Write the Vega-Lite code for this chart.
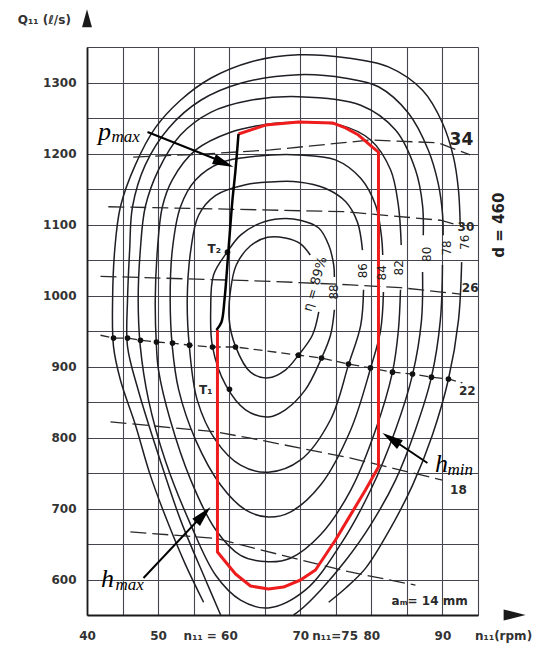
{
  "$schema": "https://vega.github.io/schema/vega-lite/v6.json",
  "width": 391,
  "height": 568,
  "autosize": "none",
  "padding": {"left": 87, "top": 47, "right": 59, "bottom": 36},
  "background": "white",
  "config": {"view": {"stroke": null}},
  "datasets": {
    "ct": [
      {"s":"89","x":72.6,"y":977},{"s":"89","x":71.7,"y":944},{"s":"89","x":69.75,"y":916},{"s":"89","x":67.9,"y":895},{"s":"89","x":65.5,"y":884},{"s":"89","x":63.0,"y":892},{"s":"89","x":60.9,"y":928},{"s":"89","x":60.0,"y":966},{"s":"89","x":60.2,"y":1008},{"s":"89","x":61.0,"y":1043},{"s":"89","x":63.0,"y":1070},{"s":"89","x":65.4,"y":1082},{"s":"89","x":67.9,"y":1081},{"s":"89","x":70.0,"y":1073},{"s":"89","x":71.4,"y":1057},
      {"s":"88","x":74.8,"y":980},{"s":"88","x":74.25,"y":944},{"s":"88","x":73.0,"y":912},{"s":"88","x":70.7,"y":867},{"s":"88","x":67.9,"y":839},{"s":"88","x":65.5,"y":829},{"s":"88","x":62.3,"y":839},{"s":"88","x":59.5,"y":874},{"s":"88","x":57.65,"y":928},{"s":"88","x":57.4,"y":980},{"s":"88","x":57.8,"y":1029},{"s":"88","x":59.7,"y":1061},{"s":"88","x":61.6,"y":1085},{"s":"88","x":64.4,"y":1102},{"s":"88","x":67.2,"y":1108},{"s":"88","x":70.0,"y":1106},{"s":"88","x":72.6,"y":1095},{"s":"88","x":74.0,"y":1071},{"s":"88","x":74.7,"y":1043},{"s":"88","x":74.8,"y":1026},
      {"s":"86","x":78.9,"y":1008},{"s":"86","x":78.5,"y":958},{"s":"86","x":76.8,"y":903},{"s":"86","x":74.25,"y":825},{"s":"86","x":70.0,"y":768},{"s":"86","x":65.5,"y":751},{"s":"86","x":61.6,"y":761},{"s":"86","x":58.1,"y":796},{"s":"86","x":55.5,"y":853},{"s":"86","x":54.4,"y":928},{"s":"86","x":54.1,"y":994},{"s":"86","x":54.6,"y":1064},{"s":"86","x":55.7,"y":1113},{"s":"86","x":58.1,"y":1141},{"s":"86","x":62.3,"y":1156},{"s":"86","x":65.8,"y":1160},{"s":"86","x":69.75,"y":1160},{"s":"86","x":73.5,"y":1151},{"s":"86","x":76.4,"y":1132},{"s":"86","x":78.05,"y":1103},{"s":"86","x":78.75,"y":1064},
      {"s":"84","x":81.7,"y":1005},{"s":"84","x":81.3,"y":951},{"s":"84","x":79.9,"y":898},{"s":"84","x":77.1,"y":811},{"s":"84","x":72.85,"y":733},{"s":"84","x":68.6,"y":695},{"s":"84","x":65.5,"y":688},{"s":"84","x":62.3,"y":698},{"s":"84","x":58.8,"y":733},{"s":"84","x":55.3,"y":796},{"s":"84","x":52.9,"y":867},{"s":"84","x":52.0,"y":928},{"s":"84","x":51.7,"y":994},{"s":"84","x":52.0,"y":1064},{"s":"84","x":53.15,"y":1125},{"s":"84","x":55.3,"y":1163},{"s":"84","x":58.8,"y":1187},{"s":"84","x":63.7,"y":1196},{"s":"84","x":69.75,"y":1198},{"s":"84","x":74.95,"y":1191},{"s":"84","x":78.5,"y":1165},{"s":"84","x":80.6,"y":1127},{"s":"84","x":81.4,"y":1085},{"s":"84","x":81.6,"y":1057},
      {"s":"82","x":84.1,"y":1008},{"s":"82","x":83.8,"y":951},{"s":"82","x":82.97,"y":892},{"s":"82","x":80.6,"y":811},{"s":"82","x":77.1,"y":726},{"s":"82","x":72.85,"y":663},{"s":"82","x":68.6,"y":630},{"s":"82","x":65.5,"y":625},{"s":"82","x":61.6,"y":634},{"s":"82","x":58.1,"y":670},{"s":"82","x":54.6,"y":740},{"s":"82","x":51.7,"y":825},{"s":"82","x":50.06,"y":895},{"s":"82","x":49.77,"y":928},{"s":"82","x":49.6,"y":994},{"s":"82","x":49.9,"y":1064},{"s":"82","x":50.6,"y":1125},{"s":"82","x":52.0,"y":1163},{"s":"82","x":55.3,"y":1205},{"s":"82","x":60.2,"y":1230},{"s":"82","x":65.1,"y":1241},{"s":"82","x":69.75,"y":1244},{"s":"82","x":75.65,"y":1240},{"s":"82","x":79.9,"y":1219},{"s":"82","x":82.7,"y":1177},{"s":"82","x":83.8,"y":1127},{"s":"82","x":84.2,"y":1071},
      {"s":"80","x":87.2,"y":1033},{"s":"80","x":87.05,"y":965},{"s":"80","x":85.8,"y":889},{"s":"80","x":83.4,"y":811},{"s":"80","x":79.9,"y":726},{"s":"80","x":75.65,"y":649},{"s":"80","x":70.7,"y":585},{"s":"80","x":65.5,"y":560},{"s":"80","x":61.6,"y":571},{"s":"80","x":58.1,"y":606},{"s":"80","x":54.6,"y":677},{"s":"80","x":51.0,"y":768},{"s":"80","x":48.65,"y":853},{"s":"80","x":47.5,"y":928},{"s":"80","x":47.2,"y":994},{"s":"80","x":47.5,"y":1064},{"s":"80","x":48.2,"y":1125},{"s":"80","x":50.06,"y":1177},{"s":"80","x":53.15,"y":1226},{"s":"80","x":57.4,"y":1258},{"s":"80","x":63.0,"y":1275},{"s":"80","x":69.75,"y":1280},{"s":"80","x":78.5,"y":1268},{"s":"80","x":83.4,"y":1233},{"s":"80","x":86.2,"y":1177},{"s":"80","x":87.2,"y":1127},{"s":"80","x":87.3,"y":1085},
      {"s":"78a","x":58.8,"y":550},{"s":"78a","x":56.7,"y":599},{"s":"78a","x":53.15,"y":684},{"s":"78a","x":50.06,"y":775},{"s":"78a","x":47.2,"y":867},{"s":"78a","x":45.7,"y":928},{"s":"78a","x":45.7,"y":994},{"s":"78a","x":46.0,"y":1064},{"s":"78a","x":46.4,"y":1125},{"s":"78a","x":48.2,"y":1184},{"s":"78a","x":51.5,"y":1236},{"s":"78a","x":56.0,"y":1275},{"s":"78a","x":61.6,"y":1299},{"s":"78a","x":69.75,"y":1311},{"s":"78a","x":76.4,"y":1306},{"s":"78a","x":81.0,"y":1294},{"s":"78a","x":85.2,"y":1257},{"s":"78a","x":88.0,"y":1205},{"s":"78a","x":89.4,"y":1158},{"s":"78a","x":90.0,"y":1116},{"s":"78a","x":90.1,"y":1085},
      {"s":"78b","x":90.0,"y":1043},{"s":"78b","x":89.7,"y":965},{"s":"78b","x":88.45,"y":885},{"s":"78b","x":86.2,"y":811},{"s":"78b","x":83.4,"y":740},{"s":"78b","x":79.9,"y":677},{"s":"78b","x":76.4,"y":627},{"s":"78b","x":72.85,"y":585},{"s":"78b","x":70.0,"y":557},{"s":"78b","x":69.05,"y":550},
      {"s":"76a","x":56.4,"y":568},{"s":"76a","x":53.85,"y":621},{"s":"76a","x":51.5,"y":677},{"s":"76a","x":48.9,"y":747},{"s":"76a","x":46.8,"y":818},{"s":"76a","x":44.7,"y":881},{"s":"76a","x":43.73,"y":928},{"s":"76a","x":43.6,"y":994},{"s":"76a","x":43.9,"y":1064},{"s":"76a","x":44.7,"y":1125},{"s":"76a","x":46.8,"y":1184},{"s":"76a","x":49.6,"y":1236},{"s":"76a","x":53.15,"y":1275},{"s":"76a","x":57.4,"y":1306},{"s":"76a","x":63.0,"y":1329},{"s":"76a","x":69.75,"y":1339},{"s":"76a","x":76.4,"y":1335},{"s":"76a","x":82.4,"y":1322},{"s":"76a","x":87.2,"y":1289},{"s":"76a","x":90.0,"y":1243},{"s":"76a","x":91.55,"y":1195},{"s":"76a","x":92.25,"y":1149},{"s":"76a","x":92.5,"y":1099},
      {"s":"76b","x":92.7,"y":1047},{"s":"76b","x":92.25,"y":965},{"s":"76b","x":90.84,"y":882},{"s":"76b","x":88.6,"y":804},{"s":"76b","x":85.8,"y":733},{"s":"76b","x":82.4,"y":667},{"s":"76b","x":79.2,"y":616},{"s":"76b","x":76.4,"y":588},{"s":"76b","x":74.0,"y":568}
    ],
    "am": [
      {"s":"34","x":46.5,"y":1195},{"s":"34","x":56.0,"y":1199},{"s":"34","x":65.8,"y":1205},{"s":"34","x":79.9,"y":1219},{"s":"34","x":89.4,"y":1215},{"s":"34","x":93.9,"y":1198},
      {"s":"30","x":43.0,"y":1125},{"s":"30","x":58.1,"y":1122},{"s":"30","x":76.4,"y":1118},{"s":"30","x":89.7,"y":1106},{"s":"30","x":92.25,"y":1099},
      {"s":"26","x":41.9,"y":1027},{"s":"26","x":65.8,"y":1020},{"s":"26","x":77.1,"y":1015},{"s":"26","x":84.1,"y":1011},{"s":"26","x":92.5,"y":1002},
      {"s":"18","x":43.3,"y":822},{"s":"18","x":58.1,"y":808},{"s":"18","x":63.0,"y":799},{"s":"18","x":77.1,"y":771},{"s":"18","x":90.0,"y":740},
      {"s":"14","x":46.1,"y":667},{"s":"14","x":58.1,"y":658},{"s":"14","x":67.5,"y":634},{"s":"14","x":76.8,"y":611},{"s":"14","x":86.2,"y":592}
    ],
    "a22": [
      {"x":41.9,"y":944},{"x":43.73,"y":940},{"x":45.7,"y":940},{"x":47.52,"y":937},{"x":49.77,"y":934.5},{"x":52.03,"y":933},{"x":54.42,"y":930},{"x":57.65,"y":927.5},{"x":60.89,"y":927.5},{"x":69.75,"y":916},{"x":72.99,"y":912},{"x":76.78,"y":903.5},{"x":79.87,"y":898},{"x":82.97,"y":892},{"x":85.79,"y":889.4},{"x":88.45,"y":885},{"x":90.84,"y":882.4},{"x":92.8,"y":877}
    ],
    "dots": [
      {"x":43.73,"y":940},{"x":45.7,"y":940},{"x":47.52,"y":937},{"x":49.77,"y":934.5},{"x":52.03,"y":933},{"x":54.42,"y":930},{"x":57.65,"y":927.5},{"x":60.89,"y":927.5},{"x":69.75,"y":916},{"x":72.99,"y":912},{"x":76.78,"y":903.5},{"x":79.87,"y":898},{"x":82.97,"y":892},{"x":85.79,"y":889.4},{"x":88.45,"y":885},{"x":90.84,"y":882.4},
      {"x":60.04,"y":868},{"x":59.76,"y":1061}
    ],
    "red": [
      {"x":61.31,"y":1227.5},{"x":65.1,"y":1240},{"x":69.75,"y":1244.4},{"x":74.53,"y":1243},{"x":76.36,"y":1236},{"x":78.19,"y":1226},{"x":80.15,"y":1209},{"x":81.0,"y":1202},{"x":81.0,"y":758.5},{"x":79.17,"y":726},{"x":77.07,"y":691},{"x":74.95,"y":655.6},{"x":72.14,"y":613.4},{"x":70.03,"y":599.3},{"x":67.64,"y":589.4},{"x":65.53,"y":586.6},{"x":63.0,"y":590.8},{"x":60.89,"y":607.7},{"x":58.35,"y":638.7},{"x":58.35,"y":951.4}
    ],
    "blk": [
      {"x":61.31,"y":1227.5},{"x":60.89,"y":1176.8},{"x":60.46,"y":1134.5},{"x":59.9,"y":1064},{"x":59.34,"y":993.7},{"x":58.92,"y":962.7},{"x":58.21,"y":951.4}
    ],
    "arrows": [
      {"x":48.51,"y":1230.3,"x2":59.4,"y2":1187},
      {"x":47.95,"y":602.1,"x2":56.4,"y2":692},
      {"x":87.89,"y":764.1,"x2":82.7,"y2":799}
    ]
  },
  "encoding": {
    "x": {"field":"x","type":"quantitative","scale":{"domain":[40,95],"nice":false,"zero":false},
      "axis":{"values":[40,45,50,55,60,65,70,75,80,85,90,95],"labelExpr":"indexof([40,50,70,80,90], datum.value) >= 0 ? datum.label : ''","grid":true,"gridColor":"#45454f","gridWidth":1.1,"gridOpacity":1,"ticks":false,"tickSize":0,"domainColor":"#1a1a1a","domainWidth":1.8,"labelPadding":15,"labelFont":"DejaVu Sans","labelFontWeight":"bold","labelFontSize":12,"labelColor":"#333","labelFlush":false,"labelOverlap":false,"title":null}},
    "y": {"field":"y","type":"quantitative","scale":{"domain":[550,1350],"nice":false,"zero":false},
      "axis":{"values":[550,600,650,700,750,800,850,900,950,1000,1050,1100,1150,1200,1250,1300,1350],"labelExpr":"(datum.value % 100 == 0 && datum.value >= 600 && datum.value <= 1300) ? ('' + datum.value) : ''","grid":true,"gridColor":"#45454f","gridWidth":1.1,"gridOpacity":1,"ticks":false,"tickSize":0,"domainColor":"#1a1a1a","domainWidth":1.8,"labelPadding":11,"labelFont":"DejaVu Sans","labelFontWeight":"bold","labelFontSize":12,"labelColor":"#333","labelFlush":false,"labelOverlap":false,"title":null}}
  },
  "layer": [
    {"data":{"values":[{"x":60},{"x":75}]},"mark":{"type":"rule","stroke":"#222","strokeWidth":1.6,"strokeDash":[12,3]},
     "encoding":{"y":{"datum":550,"type":"quantitative"},"y2":{"datum":1350}}},
    {"data":{"values":[{"x":40}]},"mark":{"type":"rule","stroke":"#1a1a1a","strokeWidth":1.8,"clip":false},
     "encoding":{"y":{"datum":1350,"type":"quantitative"},"y2":{"datum":1396}}},
    {"data":{"values":[{"y":550}]},"mark":{"type":"rule","stroke":"#1a1a1a","strokeWidth":1.8,"clip":false},
     "encoding":{"x":{"datum":95,"type":"quantitative"},"x2":{"datum":100.5}}},
    {"data":{"values":[{"x":40,"y":1403}]},"mark":{"type":"point","shape":"M0,0L-2,-0.55L-2,0.55Z","filled":true,"fill":"#1a1a1a","strokeWidth":0,"opacity":1,"size":324,"angle":-90,"clip":false}},
    {"data":{"values":[{"x":101.7,"y":550}]},"mark":{"type":"point","shape":"M0,0L-2,-0.5L-2,0.5Z","filled":true,"fill":"#1a1a1a","strokeWidth":0,"opacity":1,"size":484,"angle":0,"clip":false}},
    {"data":{"name":"ct"},"mark":{"type":"line","interpolate":"catmull-rom","stroke":"#1e1e24","strokeWidth":1.5,"clip":false},
     "encoding":{"detail":{"field":"s"},"order":{"value":null}}},
    {"data":{"name":"am"},"mark":{"type":"line","stroke":"#2a2a2a","strokeWidth":1.3,"strokeDash":[16,6]},
     "encoding":{"detail":{"field":"s"},"order":{"value":null}}},
    {"data":{"name":"a22"},"mark":{"type":"line","stroke":"#2a2a2a","strokeWidth":1.3,"strokeDash":[9,5]},
     "encoding":{"order":{"value":null}}},
    {"data":{"name":"dots"},"mark":{"type":"point","filled":true,"fill":"#111","strokeWidth":0,"opacity":1,"size":32}},
    {"data":{"name":"red"},"mark":{"type":"line","stroke":"#ee1c1c","strokeWidth":3,"strokeJoin":"round"},
     "encoding":{"order":{"value":null}}},
    {"data":{"name":"blk"},"mark":{"type":"line","stroke":"#000","strokeWidth":2.5,"interpolate":"catmull-rom"},
     "encoding":{"order":{"value":null}}},
    {"data":{"name":"arrows"},"mark":{"type":"rule","stroke":"#000","strokeWidth":2},
     "encoding":{"x2":{"field":"x2"},"y2":{"field":"y2"}}},
    {"data":{"values":[{"x":60.6,"y":1181}]},"mark":{"type":"point","shape":"M0,0L-2,-0.5L-2,0.5Z","filled":true,"fill":"#000","strokeWidth":0,"opacity":1,"size":441,"angle":22}},
    {"data":{"values":[{"x":57.37,"y":702}]},"mark":{"type":"point","shape":"M0,0L-2,-0.5L-2,0.5Z","filled":true,"fill":"#000","strokeWidth":0,"opacity":1,"size":441,"angle":-47}},
    {"data":{"values":[{"x":81.56,"y":806.3}]},"mark":{"type":"point","shape":"M0,0L-2,-0.5L-2,0.5Z","filled":true,"fill":"#000","strokeWidth":0,"opacity":1,"size":441,"angle":213.7}},
    {"data":{"values":[{"t":"86","x":78.89,"y":1035},{"t":"84","x":81.56,"y":1032},{"t":"82","x":83.95,"y":1039},{"t":"80","x":87.89,"y":1058},{"t":"78","x":90.7,"y":1067},{"t":"76","x":93.2,"y":1075},{"t":"88","x":74.8,"y":1005}]},
     "mark":{"type":"text","angle":270,"font":"DejaVu Sans","fontSize":12,"fill":"#222","align":"center","baseline":"middle","clip":false},
     "encoding":{"text":{"field":"t"}}},
    {"data":{"values":[{"t":"η = 89%","x":72.1,"y":1016}]},
     "mark":{"type":"text","angle":-74,"font":"DejaVu Sans","fontSize":13,"fill":"#222","align":"center","baseline":"middle"},
     "encoding":{"text":{"field":"t"}}},
    {"data":{"values":[{"t":"d = 460","x":97.9,"y":1099}]},
     "mark":{"type":"text","angle":270,"font":"DejaVu Sans","fontWeight":"bold","fontSize":15,"fill":"#222","align":"center","baseline":"middle","clip":false},
     "encoding":{"text":{"field":"t"}}},
    {"data":{"values":[{"t":"34","x":92.67,"y":1219}]},
     "mark":{"type":"text","font":"DejaVu Sans","fontWeight":"bold","fontSize":17,"fill":"#222","align":"center","baseline":"middle","clip":false},
     "encoding":{"text":{"field":"t"}}},
    {"data":{"values":[{"t":"30","x":93.3,"y":1097},{"t":"26","x":93.9,"y":1010.6},{"t":"22","x":93.5,"y":865.5},{"t":"18","x":92.25,"y":726},{"t":"aₘ= 14 mm","x":88.2,"y":570},{"t":"T₂","x":57.9,"y":1066},{"t":"T₁","x":56.7,"y":867}]},
     "mark":{"type":"text","font":"DejaVu Sans","fontWeight":"bold","fontSize":12,"fill":"#2a2a2a","align":"center","baseline":"middle","clip":false},
     "encoding":{"text":{"field":"t"}}},
    {"data":{"values":[{"t":"n₁₁ = 60","x":57.4,"y":520.6},{"t":"n₁₁=75","x":74.9,"y":520.6},{"t":"n₁₁(rpm)","x":98.6,"y":520.6},{"t":"Q₁₁ (ℓ/s)","x":34.0,"y":1388}]},
     "mark":{"type":"text","font":"DejaVu Sans","fontWeight":"bold","fontSize":12,"fill":"#333","align":"center","baseline":"middle","clip":false},
     "encoding":{"text":{"field":"t"}}},
    {"data":{"values":[{"t":"p","x":42.46,"y":1219},{"t":"h","x":42.9,"y":589},{"t":"h","x":89.86,"y":752}]},
     "mark":{"type":"text","font":"Liberation Serif","fontStyle":"italic","fontSize":26,"fill":"#000","align":"center","baseline":"alphabetic","clip":false},
     "encoding":{"text":{"field":"t"}}},
    {"data":{"values":[{"t":"max","x":43.45,"y":1216},{"t":"max","x":44.0,"y":585},{"t":"min","x":90.7,"y":747}]},
     "mark":{"type":"text","font":"Liberation Serif","fontStyle":"italic","fontSize":17,"fill":"#000","align":"left","baseline":"alphabetic","clip":false},
     "encoding":{"text":{"field":"t"}}}
  ]
}
